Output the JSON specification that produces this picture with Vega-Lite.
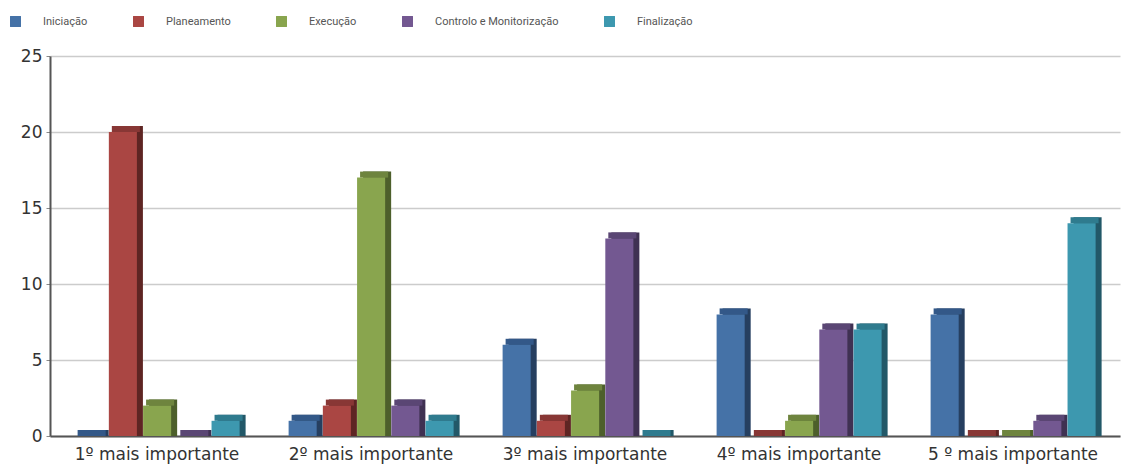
{
  "$schema": "https://vega.github.io/schema/vega-lite/v6.json",
  "autosize": {"type": "none"},
  "width": 1070,
  "height": 380,
  "padding": {"left": 50, "top": 56, "right": 2, "bottom": 28},
  "background": "white",
  "data": {"values": [
    {"cat": "1º mais importante", "series": "Iniciação", "value": 0},
    {"cat": "1º mais importante", "series": "Planeamento", "value": 20},
    {"cat": "1º mais importante", "series": "Execução", "value": 2},
    {"cat": "1º mais importante", "series": "Controlo e Monitorização", "value": 0},
    {"cat": "1º mais importante", "series": "Finalização", "value": 1},
    {"cat": "2º mais importante", "series": "Iniciação", "value": 1},
    {"cat": "2º mais importante", "series": "Planeamento", "value": 2},
    {"cat": "2º mais importante", "series": "Execução", "value": 17},
    {"cat": "2º mais importante", "series": "Controlo e Monitorização", "value": 2},
    {"cat": "2º mais importante", "series": "Finalização", "value": 1},
    {"cat": "3º mais importante", "series": "Iniciação", "value": 6},
    {"cat": "3º mais importante", "series": "Planeamento", "value": 1},
    {"cat": "3º mais importante", "series": "Execução", "value": 3},
    {"cat": "3º mais importante", "series": "Controlo e Monitorização", "value": 13},
    {"cat": "3º mais importante", "series": "Finalização", "value": 0},
    {"cat": "4º mais importante", "series": "Iniciação", "value": 8},
    {"cat": "4º mais importante", "series": "Planeamento", "value": 0},
    {"cat": "4º mais importante", "series": "Execução", "value": 1},
    {"cat": "4º mais importante", "series": "Controlo e Monitorização", "value": 7},
    {"cat": "4º mais importante", "series": "Finalização", "value": 7},
    {"cat": "5 º mais importante", "series": "Iniciação", "value": 8},
    {"cat": "5 º mais importante", "series": "Planeamento", "value": 0},
    {"cat": "5 º mais importante", "series": "Execução", "value": 0},
    {"cat": "5 º mais importante", "series": "Controlo e Monitorização", "value": 1},
    {"cat": "5 º mais importante", "series": "Finalização", "value": 14}
  ]},
  "encoding": {
    "x": {
      "field": "cat", "type": "nominal", "sort": null,
      "scale": {"paddingInner": 0.23, "paddingOuter": 0.115},
      "axis": {"title": null, "labelAngle": 0, "labelFont": "DejaVu Sans", "labelFontSize": 17, "labelColor": "#333333",
               "labelPadding": 10, "ticks": false, "domainColor": "#555555", "domainWidth": 2, "grid": false}
    },
    "y": {
      "field": "value", "type": "quantitative", "stack": null,
      "scale": {"domain": [0, 25], "nice": false},
      "axis": {"title": null, "values": [0, 5, 10, 15, 20, 25], "labelFont": "DejaVu Sans", "labelFontSize": 17,
               "labelColor": "#333333", "labelPadding": 4, "tickSize": 4, "tickColor": "#888888",
               "domainColor": "#555555", "domainWidth": 2, "gridColor": "#cccccc", "gridWidth": 1.5}
    }
  },
  "layer": [
    {
      "mark": {"type": "bar", "yOffset": -6, "y2Offset": 0},
      "encoding": {
        "xOffset": {
          "field": "series", "type": "nominal", "sort": null,
          "scale": {"paddingInner": 0.18, "paddingOuter": 0, "range": [6, 171]}
        },
        "color": {
          "field": "series", "type": "nominal", "sort": null, "legend": null,
          "scale": {"domain": ["Iniciação", "Planeamento", "Execução", "Controlo e Monitorização", "Finalização"],
                    "range": ["#263f60", "#5e2523", "#4d5f2b", "#3f3152", "#225868"]}
        }
      }
    },
    {
      "mark": {"type": "bar", "yOffset": -6, "y2Offset": 0},
      "encoding": {
        "y2": {"field": "value"},
        "xOffset": {
          "field": "series", "type": "nominal", "sort": null,
          "scale": {"paddingInner": 0.18, "paddingOuter": 0, "range": [3, 168]}
        },
        "color": {
          "field": "series", "type": "nominal", "sort": null, "legend": null,
          "scale": {"domain": ["Iniciação", "Planeamento", "Execução", "Controlo e Monitorização", "Finalização"],
                    "range": ["#335888", "#883735", "#6e843e", "#5a4674", "#2f7b8e"]}
        }
      }
    },
    {
      "mark": {"type": "bar"},
      "encoding": {
        "xOffset": {
          "field": "series", "type": "nominal", "sort": null,
          "scale": {"paddingInner": 0.18, "paddingOuter": 0, "range": [0, 165]}
        },
        "color": {
          "field": "series", "type": "nominal", "sort": null,
          "scale": {"domain": ["Iniciação", "Planeamento", "Execução", "Controlo e Monitorização", "Finalização"],
                    "range": ["#4572a7", "#aa4643", "#89a54e", "#735891", "#3d98af"]},
          "legend": {
            "title": null, "orient": "none", "legendX": -40, "legendY": -40, "direction": "horizontal", "columns": 5,
            "symbolType": "square", "symbolSize": 120, "symbolStrokeWidth": 0, "symbolOpacity": 1,
            "labelFont": "Roboto", "labelFontSize": 11, "labelColor": "#555555", "labelOffset": 22, "columnPadding": 45,
            "gridAlign": "none"
          }
        }
      }
    }
  ],
  "resolve": {"scale": {"color": "independent", "xOffset": "independent"}},
  "config": {"view": {"stroke": null}}
}
